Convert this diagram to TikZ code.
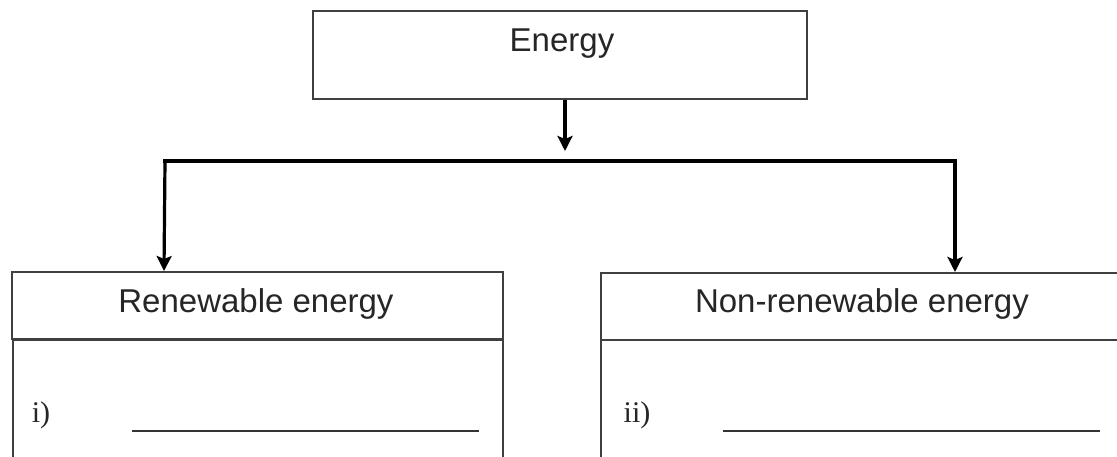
\documentclass[tikz,border=0pt]{standalone}
\usepackage{fontspec}
\setmainfont{Liberation Sans}
\newfontfamily\serifnum{Liberation Serif}
\usetikzlibrary{arrows.meta,calc}
\begin{document}
\begin{tikzpicture}[x=1pt,y=-1pt,
  boxstyle/.style={draw=black!75,line width=2pt,rectangle,inner sep=0pt},
  label/.style={text=black!85,font=\fontsize{33}{38}\selectfont},
  conn/.style={draw=black,line width=3.2pt},
  tip/.style={-{Stealth[length=15pt,width=15pt,inset=3pt]}},
  blank/.style={draw=black!80,line width=2pt}]
\useasboundingbox (0,0) rectangle (1117,457);
\fill[white] (0,0) rectangle (1117,457);
\clip (0,0) rectangle (1117,457);
% top box
\node[boxstyle,minimum width=494pt,minimum height=88pt] (E) at (560,55) {};
\node[label] (Et) at (562,44) {Energy};
% left column
\node[boxstyle,minimum width=491pt,minimum height=67pt] (L) at (257.5,305.5) {};
\node[label] (Lt) at (256,304) {Renewable energy};
\node[boxstyle,minimum width=490pt,minimum height=140pt,anchor=north west] (Lb) at (12,339) {};
\node[text=black!85,font=\serifnum\fontsize{30}{34}\selectfont] (Li) at (41,415) {i)};
\coordinate (Lu1) at (132,431);
\coordinate (Lu2) at (479,431);
\draw[blank] (Lu1) -- (Lu2);
% right column
\node[boxstyle,minimum width=530pt,minimum height=67pt,anchor=north west] (R) at (600,272) {};
\node[label] (Rt) at (862,304) {Non-renewable energy};
\node[boxstyle,minimum width=530pt,minimum height=140pt,anchor=north west] (Rb) at (600,339) {};
\node[text=black!85,font=\serifnum\fontsize{30}{34}\selectfont] (Ri) at (637,415) {ii)};
\coordinate (Ru1) at (723,431);
\coordinate (Ru2) at (1100,431);
\draw[blank] (Ru1) -- (Ru2);
% connectors
\coordinate (Es) at ($(E.south)+(5,0)$);
\coordinate (Ea) at (565,151);
\draw[conn,tip] (Es) -- (Ea);
\coordinate (Ltop) at ($(L.north west)+(153,0)$);
\coordinate (Rtop) at ($(R.north west)+(355,0)$);
\coordinate (Hl) at (165,161);
\coordinate (Hr) at (955,161);
\draw[conn,tip] (Hl) -- (Ltop);
\draw[conn,tip] (Hr) -- (Rtop);
\draw[conn,line cap=rect] (Hl) -- (Hr);
\end{tikzpicture}
\end{document}
